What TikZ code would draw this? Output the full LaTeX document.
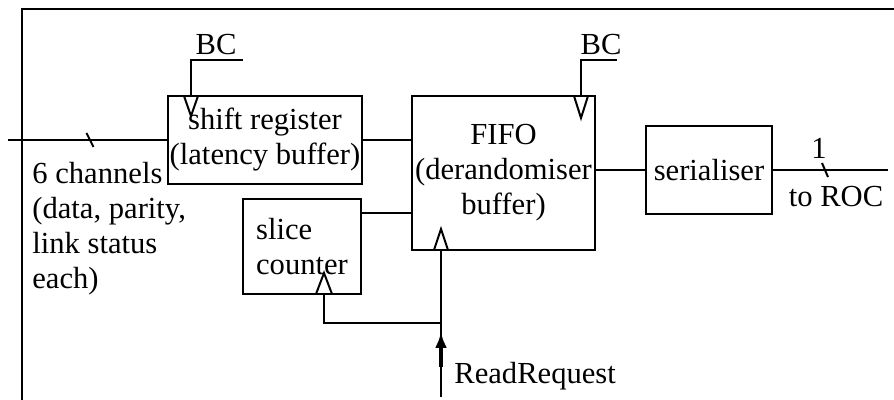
\documentclass[tikz,border=0pt]{standalone}
\usepackage{fontspec}
\setmainfont{Liberation Serif}
\usetikzlibrary{arrows.meta, positioning, calc}
\tikzstyle{block} = [rectangle, draw=black, line width=1pt, align=center, inner sep=1pt]
\tikzstyle{wire}  = [line width=1pt]
\tikzstyle{lbl}   = [inner sep=1pt, align=left]
\tikzstyle{fat}   = [line width=2pt, -{Latex[length=8pt,width=6pt]}]

\begin{document}
\begin{tikzpicture}[x=0.5pt, y=-0.5pt,
    every node/.style={font=\fontsize{15.3}{17.5}\selectfont}]
  \useasboundingbox (0,0) rectangle (894,400);

  % --- frame ---
  \draw[wire] (22,400) -- (22,9) -- (894,9);

  % --- blocks ---
  \node (shiftreg) [block, minimum width=95pt, minimum height=44pt]
        at (265,140) {shift register\\(latency buffer)};
  \node (fifo)     [block, minimum width=91.5pt, minimum height=77pt]
        at (503.5,173) {FIFO\\(derandomiser\\buffer)};
  \node (slice)    [block, minimum width=59pt, minimum height=47.5pt, align=left]
        at (302,246.5) {slice\\counter};
  \node (serial)   [block, minimum width=63pt, minimum height=44pt]
        at (709,170) {serialiser};

  % --- labels ---
  \node (chan) [lbl, anchor=west] at (30,229)
        {6 channels\\(data, parity,\\link status\\each)};
  \node (bc1) at (216,45) {BC};
  \node (bc2) at (601,45) {BC};
  \node (rreq) [lbl, anchor=west] at (452,376) {ReadRequest};
  \node (one) at (819,148) {1};
  \node (roc) at (836,197) {to ROC};

  % --- clock inputs ---
  \coordinate (clk1) at (191,96);  \coordinate (bcl1) at (243,60);
  \coordinate (clk2) at (581,96);  \coordinate (bcl2) at (617,60);
  \coordinate (clk3) at (441,250);
  \coordinate (clk4) at (324,294);
  \draw[wire] (clk1) |- (bcl1);
  \draw[wire] (clk2) |- (bcl2);
  \draw[wire] (clk1) ++(-7,0) -- ++(7,20) -- ++(7,-20);
  \draw[wire] (clk2) ++(-7,0) -- ++(7,22) -- ++(7,-22);
  \draw[wire] (clk3) ++(-7,0) -- ++(7,-21) -- ++(7,21);
  \draw[wire] (clk4) ++(-8,0) -- ++(8,-21) -- ++(8,21);

  % --- data path ---
  \coordinate (in) at (8,140);
  \coordinate (out) at (888,170);
  \coordinate (sliceout) at (361,213);
  \draw[wire] (in) -- (shiftreg.west);
  \draw[wire] (shiftreg.east) -- (fifo.west |- shiftreg.east);
  \draw[wire] (sliceout) -- (sliceout -| fifo.west);
  \draw[wire] (fifo.east |- serial.west) -- (serial.west);
  \draw[wire] (serial.east) -- (out);

  % bus marks
  \coordinate (bus1) at (90,140);
  \coordinate (bus2) at (825,170);
  \draw[wire] (bus1) ++(-3.5,-7) -- ++(7,14);
  \draw[wire] (bus2) ++(-3,-7) -- ++(6,14);

  % --- read request ---
  \coordinate (rr) at (441,397);
  \coordinate (join) at (441,323);
  \draw[wire] (rr) -- (clk3);
  \draw[line width=0.7pt] (clk4) |- (join);
  \draw[fat] ($(rr)+(0,-30)$) -- ($(rr)+(0,-65)$);

\end{tikzpicture}
\end{document}
